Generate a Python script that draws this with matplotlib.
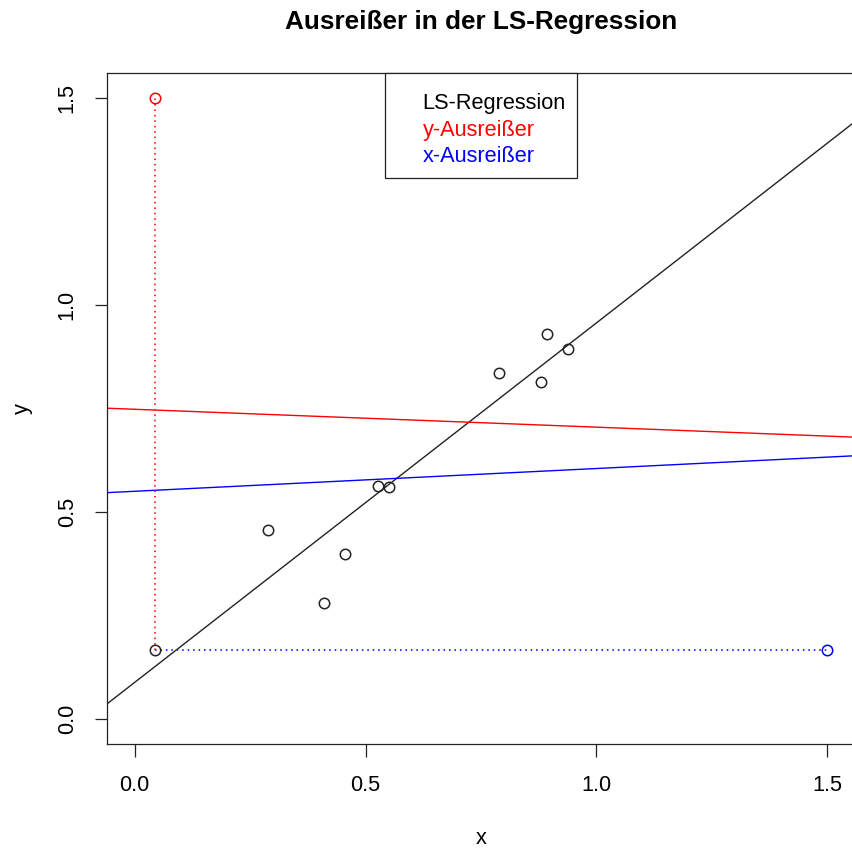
import numpy as np
import matplotlib
matplotlib.use("Agg")
import matplotlib.pyplot as plt
from matplotlib.lines import Line2D

plt.rcParams['font.family'] = ['Liberation Sans', 'DejaVu Sans']

# Observations
x_vals = [0.043, 0.288, 0.409, 0.456, 0.527, 0.551, 0.788, 0.881, 0.892, 0.939]
y_vals = [0.167, 0.457, 0.280, 0.399, 0.563, 0.560, 0.835, 0.814, 0.930, 0.894]

# Outlier positions (first observation moved in y or in x)
y_outlier = 1.5
x_outlier = 1.5

x_ticks = [0.0, 0.5, 1.0, 1.5]
y_ticks = [0.0, 0.5, 1.0, 1.5]
tick_labels = ["0.0", "0.5", "1.0", "1.5"]
legend_labels = ["LS-Regression", "y-Ausreißer", "x-Ausreißer"]
legend_colors = ["black", "red", "blue"]

x = np.array(x_vals)
y = np.array(y_vals)

x_yout = x.copy()
y_yout = y.copy()
y_yout[0] = y_outlier

x_xout = x.copy()
x_xout[0] = x_outlier
y_xout = y.copy()

fit_ls = np.polyfit(x, y, 1)
fit_y = np.polyfit(x_yout, y_yout, 1)
fit_x = np.polyfit(x_xout, y_xout, 1)

W, H = 852, 849
fig = plt.figure(figsize=(W / 100, H / 100), dpi=100)
ax = fig.add_axes([107 / W, 1 - 744 / H, (855 - 107) / W, (744 - 73) / H])

xlim = (-0.06, 1.56)
ylim = (-0.06, 1.56)
ax.set_xlim(xlim)
ax.set_ylim(ylim)

fs = 15.7
lw = 1.0

# regression lines across the whole plotting region
xx = np.array(xlim)
ax.plot(xx, np.polyval(fit_ls, xx), color="#222222", lw=lw, zorder=2)
ax.plot(xx, np.polyval(fit_y, xx), color="red", lw=lw, zorder=2)
ax.plot(xx, np.polyval(fit_x, xx), color="blue", lw=lw, zorder=2)

# dotted connectors from the original point to its outlier position
ax.plot([x[0], x[0]], [y[0], y_outlier], color="#ff3030", lw=1.4,
        dashes=(0.8, 2.0), zorder=2)
ax.plot([x[0], x_outlier], [y[0], y[0]], color="#3030ff", lw=1.4,
        dashes=(0.8, 2.0), zorder=2)

mk = dict(marker="o", ms=7.5, mfc="none", mew=1.1, ls="none", zorder=3)
ax.plot(x, y, mec="#222222", **mk)
ax.plot([x[0]], [y_outlier], mec="red", **mk)
ax.plot([x_outlier], [y[0]], mec="blue", **mk)

ax.set_xticks(x_ticks)
ax.set_xticklabels(tick_labels)
ax.set_yticks(y_ticks)
ax.set_yticklabels(tick_labels, rotation=90, va="center")
ax.tick_params(direction="out", length=9, width=0.9, color="#222222",
               labelsize=fs)
ax.tick_params(axis="x", pad=13)
ax.tick_params(axis="y", pad=12)
for s in ax.spines.values():
    s.set_linewidth(0.9)
    s.set_color("#222222")

ax.set_xlabel("x", fontsize=fs, labelpad=23)
ax.set_ylabel("y", fontsize=fs, labelpad=17)
ax.set_title("Ausreißer in der LS-Regression", fontsize=18.8,
             fontweight="bold", pad=32)

handles = [Line2D([], [], color="none") for _ in legend_labels]
leg = ax.legend(handles, legend_labels, loc="upper center",
                bbox_to_anchor=(0.5, 1.0), borderaxespad=0,
                fontsize=fs, labelcolor=legend_colors,
                fancybox=False, framealpha=1, edgecolor="#222222",
                handlelength=0.9, handletextpad=0.3, borderpad=0.5,
                labelspacing=0.25, title=" ", title_fontsize=2.3)
leg.get_frame().set_linewidth(0.9)

fig.savefig("out.png", dpi=100)
